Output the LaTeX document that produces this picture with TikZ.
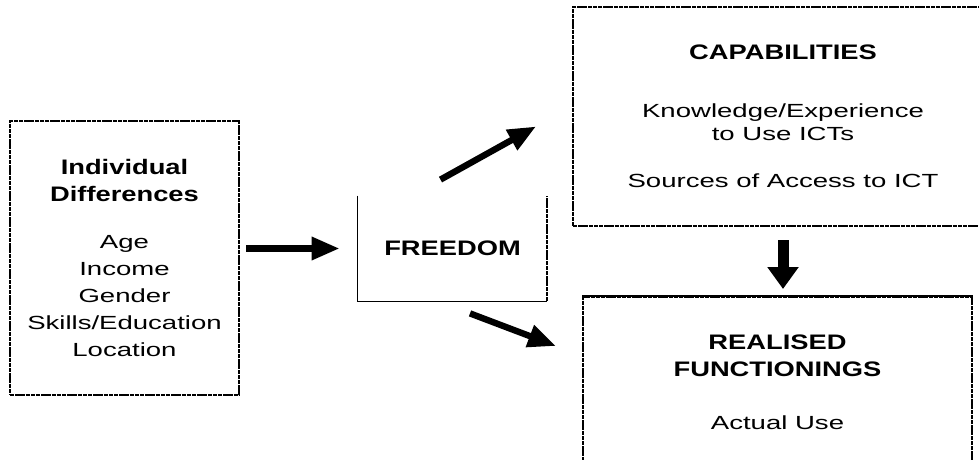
\documentclass[tikz,border=0pt]{standalone}
\usepackage{fontspec}
\usepackage{tikz}
\usetikzlibrary{arrows.meta, positioning}
\newfontfamily\bodyfont[FakeStretch=1.45]{Liberation Sans}
\newfontfamily\headfont[FakeStretch=1.3]{Liberation Sans}
\newcommand{\boxhead}[1]{{\headfont\bfseries\fontsize{10.5}{13.5}\selectfont #1}}
\tikzset{
    dotbox/.style={draw, line width=1pt, dash pattern={on 2.2pt off 0.4pt}, align=center},
    fatarrow/.style={line width=3.2pt, -{Triangle[length=14pt,width=11pt]}},
    downarrow/.style={line width=5.5pt, -{Triangle[length=11pt,width=15pt]}}
}
\begin{document}
\begin{tikzpicture}[x=0.5pt, y=-0.5pt]
    \clip (0,0) rectangle (979,460);
    \fill[white] (0,0) rectangle (979,460);

    % Individual differences
    \node[dotbox, minimum width=114.5pt, minimum height=136.5pt,
          font=\bodyfont\fontsize{9.5}{13.5}\selectfont] (ind) at (124.5,258)
        {\boxhead{Individual}\\\boxhead{Differences}\\[10pt]
         Age\\Income\\Gender\\Skills/Education\\Location};

    % Freedom (open at the top)
    \node[minimum width=94.5pt, minimum height=52.5pt,
          font=\headfont\bfseries\fontsize{10.5}{13.5}\selectfont] (free) at (452.5,248.5) {FREEDOM};
    \draw[line width=0.7pt] (free.north west) -- (free.south west) -- (free.south east);
    \draw[dotbox] (free.south east) -- (free.north east);

    % Capabilities
    \node[dotbox, minimum width=210pt, minimum height=109.5pt,
          font=\bodyfont\fontsize{9.5}{11.5}\selectfont] (cap) at (783,116.5)
        {\boxhead{CAPABILITIES}\\[17.5pt]
         Knowledge/Experience\\to Use ICTs\\[12pt]
         Sources of Access to ICT};

    % Realised functionings
    \node[dotbox, minimum width=194.5pt, minimum height=85pt,
          font=\bodyfont\fontsize{9.5}{13.5}\selectfont] (real) at (777.5,382)
        {\boxhead{REALISED}\\\boxhead{FUNCTIONINGS}\\[13pt]
         Actual Use};
    \draw[line width=1pt] (real.north west) -- (real.north east);

    % Arrows
    \draw[fatarrow, shorten <=3pt, shorten >=9pt] (ind.east |- free.west) -- (free.west);
    \draw[fatarrow] ([xshift=-6pt,yshift=8pt]free.north) -- ([xshift=-18pt,yshift=-5pt]cap.west);
    \draw[fatarrow] ([xshift=8.75pt,yshift=-6pt]free.south) -- ([xshift=-13pt,yshift=-25pt]real.north west);
    \draw[downarrow, shorten <=6.5pt, shorten >=3.5pt] (cap.south) -- (cap.south |- real.north);
\end{tikzpicture}
\end{document}
